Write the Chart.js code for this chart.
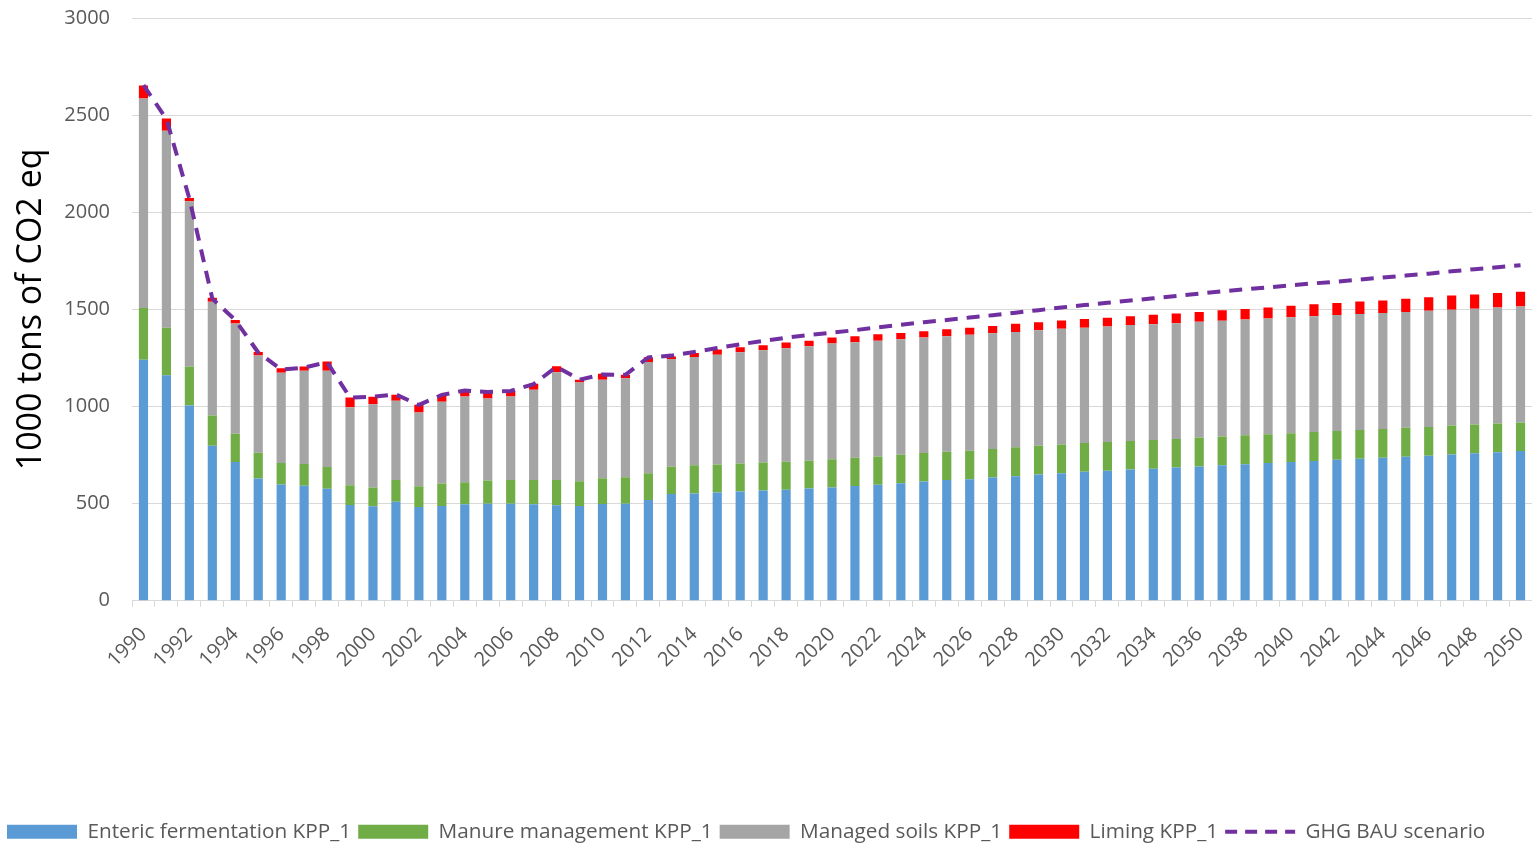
<!DOCTYPE html>
<html>
<head>
<meta charset="utf-8">
<script src="https://cdn.jsdelivr.net/npm/chart.js@4"></script>
<style>
    html, body { margin: 0; padding: 0; background: #fff; overflow: hidden; }
    #wrap { width: 1532px; height: 852px; position: relative; }
</style>
</head>
<body>
<div id="wrap"><canvas id="ghgChart"></canvas></div>
<script>
// years on the category axis
const years = [];
for (let y = 1990; y <= 2050; y++) years.push(String(y));

// 1000 t CO2 eq
const enteric = [
    1241, 1161, 1005, 798, 714, 629, 599, 592, 576, 493, 486, 510, 483, 488, 497, 500, 500, 497, 491, 488,
    498, 500, 519, 549, 552, 557, 562, 567, 572, 578, 583, 591, 597, 605, 614, 621, 626, 634, 641, 650,
    657, 664, 669, 676, 679, 686, 691, 697, 703, 709, 714, 719, 726, 731, 736, 741, 746, 753, 759, 765, 771
];
const manure = [
    266, 245, 201, 156, 146, 133, 110, 112, 112, 101, 97, 111, 107, 115, 113, 119, 121, 124, 130, 127,
    133, 136, 138, 141, 145, 145, 145, 145, 144, 143, 145, 145, 146, 147, 146, 146, 146, 147, 149, 148,
    148, 148, 148, 146, 149, 147, 149, 148, 149, 148, 148, 150, 148, 148, 148, 149, 149, 149, 148, 147, 146
];
const soils = [
    1078, 1014, 851, 585, 567, 500, 465, 480, 496, 402, 428, 408, 379, 421, 442, 422, 431, 465, 555, 509,
    507, 509, 572, 555, 558, 565, 572, 578, 584, 589, 596, 595, 595, 594, 595, 595, 597, 596, 594, 595,
    595, 593, 595, 597, 596, 596, 596, 596, 596, 596, 598, 596, 597, 597, 597, 596, 598, 596, 596, 598, 598
];
const liming = [
    67, 62, 17, 21, 18, 18, 23, 22, 48, 50, 39, 31, 40, 35, 31, 33, 29, 31, 31, 14,
    31, 19, 24, 12, 21, 26, 26, 25, 29, 29, 31, 31, 34, 33, 33, 36, 36, 38, 42, 41,
    43, 45, 45, 45, 48, 50, 50, 54, 54, 57, 59, 61, 62, 64, 65, 69, 69, 73, 73, 74, 76
];
const bauScenario = [
    2655, 2480, 2070, 1555, 1445, 1278, 1190, 1200, 1228, 1046, 1050, 1062, 1008, 1060, 1082, 1075, 1080, 1115, 1205, 1138,
    1165, 1163, 1253, 1262, 1281, 1301, 1320, 1338, 1354, 1368, 1380, 1393, 1407, 1421, 1434, 1445, 1458, 1470, 1483, 1496,
    1510, 1522, 1534, 1546, 1557, 1569, 1581, 1593, 1603, 1613, 1624, 1634, 1643, 1653, 1664, 1674, 1684, 1696, 1707, 1717, 1727
];
const yTicks = { min: 0, max: 3000, step: 500 };

const FONT = "'Open Sans', 'Liberation Sans', sans-serif";
const TXT = '#595959';
const GRID = '#d9d9d9';

const barSet = (label, data, color) => ({
    type: 'bar',
    label: label,
    data: data,
    backgroundColor: color,
    borderWidth: 0,
    stack: 'ghg',
    categoryPercentage: 1.0,
    barPercentage: 0.4,
    order: 1
});

const ctx = document.getElementById('ghgChart').getContext('2d');
new Chart(ctx, {
    type: 'bar',
    data: {
        labels: years,
        datasets: [
            barSet('Enteric fermentation KPP_1', enteric, '#5b9bd5'),
            barSet('Manure management KPP_1', manure, '#70ad47'),
            barSet('Managed soils KPP_1', soils, '#a5a5a5'),
            barSet('Liming KPP_1', liming, '#ff0000'),
            {
                type: 'line',
                label: 'GHG BAU scenario',
                data: bauScenario,
                borderColor: '#7030a0',
                backgroundColor: '#7030a0',
                borderWidth: 4,
                borderDash: [13, 9],
                pointRadius: 0,
                tension: 0,
                fill: false,
                stack: 'line',
                order: -1
            }
        ]
    },
    options: {
        responsive: true,
        maintainAspectRatio: false,
        animation: false,
        layout: { padding: { top: 18, left: 0, right: 0, bottom: 0 } },
        plugins: {
            tooltip: { enabled: false },
            legend: {
                position: 'bottom',
                align: 'start',
                labels: {
                    font: { family: FONT, size: 20.75 },
                    color: TXT,
                    usePointStyle: true,
                    pointStyleWidth: 70,
                    boxHeight: 14,
                    padding: 7,
                    sort: (a, b) => a.datasetIndex - b.datasetIndex,
                    generateLabels: (chart) => {
                        const items = Chart.defaults.plugins.legend.labels.generateLabels(chart);
                        items.forEach(it => {
                            const isLine = chart.data.datasets[it.datasetIndex].type === 'line';
                            it.pointStyle = isLine ? 'line' : 'rect';
                            if (isLine) {
                                it.lineDash = [12, 8];
                                it.lineWidth = 4;
                            } else {
                                it.lineWidth = 0;
                            }
                        });
                        return items;
                    }
                }
            }
        },
        scales: {
            x: {
                stacked: true,
                grid: {
                    offset: true,
                    drawOnChartArea: false,
                    drawTicks: true,
                    tickLength: 6,
                    color: GRID
                },
                border: { display: true, color: GRID, width: 1 },
                ticks: {
                    autoSkip: false,
                    minRotation: 45,
                    maxRotation: 45,
                    padding: 16,
                    color: TXT,
                    font: { family: FONT, size: 20 },
                    callback: (v, i) => (i % 2 === 0 ? years[i] : '')
                },
                afterFit: (scale) => {
                    scale.height = 213.5;
                    scale.paddingRight = 0;
                }
            },
            y: {
                stacked: true,
                min: yTicks.min,
                max: yTicks.max,
                grid: { color: GRID, lineWidth: 1, drawTicks: true, tickLength: 22, tickColor: 'rgba(0,0,0,0)' },
                border: { display: false },
                ticks: {
                    stepSize: yTicks.step,
                    padding: 0,
                    color: TXT,
                    font: { family: FONT, size: 20 },
                    callback: (v) => String(v)
                },
                title: {
                    display: true,
                    text: '1000 tons of CO2 eq',
                    color: '#000',
                    font: { family: FONT, size: 34 },
                    padding: { top: 11, bottom: 0 }
                },
                afterFit: (scale) => { scale.width = 132; }
            }
        }
    }
});
</script>
</body>
</html>
